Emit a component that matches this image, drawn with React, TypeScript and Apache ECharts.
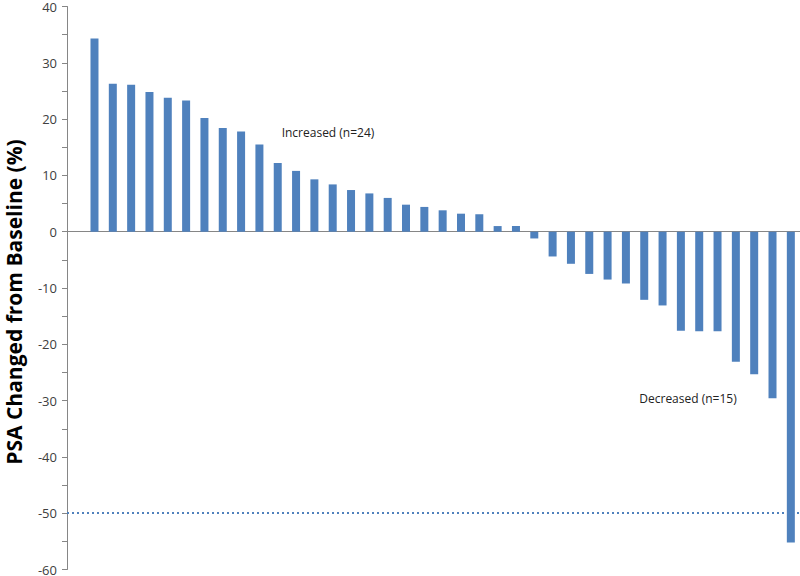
import React, { useEffect, useRef } from "react";
import * as echarts from "echarts";

const categories: string[] = Array.from({ length: 40 }, (_, i) => (i === 0 ? "" : `P${i}`));
const values: (number | null)[] = [
  null,
  34.3, 26.3, 26.1, 24.8, 23.8, 23.3, 20.2, 18.4, 17.8, 15.5,
  12.2, 10.8, 9.3, 8.4, 7.4, 6.8, 6.0, 4.8, 4.4, 3.8,
  3.2, 3.1, 1.0, 1.0,
  -1.2, -4.4, -5.7, -7.5, -8.5, -9.2, -12.1, -13.1, -17.6, -17.7,
  -17.7, -23.1, -25.3, -29.6, -55.2,
];
const referenceLine = -50;
const yMin = -60;
const yMax = 40;
const yTickStep = 5;
const yLabelStep = 10;
const yTitle = "PSA Changed from Baseline (%)";
const increasedLabel = "Increased (n=24)";
const decreasedLabel = "Decreased (n=15)";

export default function App() {
  const ref = useRef<HTMLDivElement>(null);
  useEffect(() => {
    if (!ref.current) return;
    const chart = echarts.init(ref.current, undefined, { renderer: "svg" });
    const font = "'Open Sans', 'Noto Sans', sans-serif";
    chart.setOption({
      animation: false,
      grid: { left: 67, right: 0, top: 5, bottom: 5, containLabel: false },
      xAxis: {
        type: "category",
        data: categories,
        axisLine: { onZero: true, lineStyle: { color: "#868686", width: 1 } },
        axisTick: { show: false },
        axisLabel: { show: false },
        splitLine: { show: false },
      },
      yAxis: {
        type: "value",
        min: yMin,
        max: yMax,
        interval: yTickStep,
        axisLine: { show: true, lineStyle: { color: "#868686", width: 1 } },
        axisTick: { show: true, inside: false, length: 5, lineStyle: { color: "#868686" } },
        splitLine: { show: false },
        axisLabel: {
          color: "#404040",
          fontSize: 13,
          fontFamily: font,
          margin: 10,
          formatter: (v: number) => (v % yLabelStep === 0 ? String(v) : ""),
        },
      },
      graphic: [
        {
          type: "text",
          x: 14,
          y: 302,
          rotation: Math.PI / 2,
          style: {
            text: yTitle,
            fontSize: 21,
            fontWeight: "bold",
            fontFamily: font,
            fill: "#000",
            textAlign: "center",
            textVerticalAlign: "middle",
          },
        },
        {
          type: "text",
          x: 328,
          y: 132,
          style: {
            text: increasedLabel,
            fontSize: 12,
            fontFamily: font,
            fill: "#222",
            textAlign: "center",
            textVerticalAlign: "middle",
          },
        },
        {
          type: "text",
          x: 688,
          y: 398,
          style: {
            text: decreasedLabel,
            fontSize: 12,
            fontFamily: font,
            fill: "#222",
            textAlign: "center",
            textVerticalAlign: "middle",
          },
        },
      ],
      series: [
        {
          type: "bar",
          data: values,
          barWidth: 8,
          itemStyle: { color: "#4F81BD" },
          markLine: {
            silent: true,
            symbol: "none",
            label: { show: false },
            lineStyle: { color: "#4F81BD", type: [2, 3], width: 2 },
            data: [{ yAxis: referenceLine }],
          },
        },
      ],
    });
    return () => chart.dispose();
  }, []);
  return (
    <div
      ref={ref}
      style={{ position: "fixed", left: 0, top: 0, width: 800, height: 576, background: "#fff" }}
    />
  );
}
